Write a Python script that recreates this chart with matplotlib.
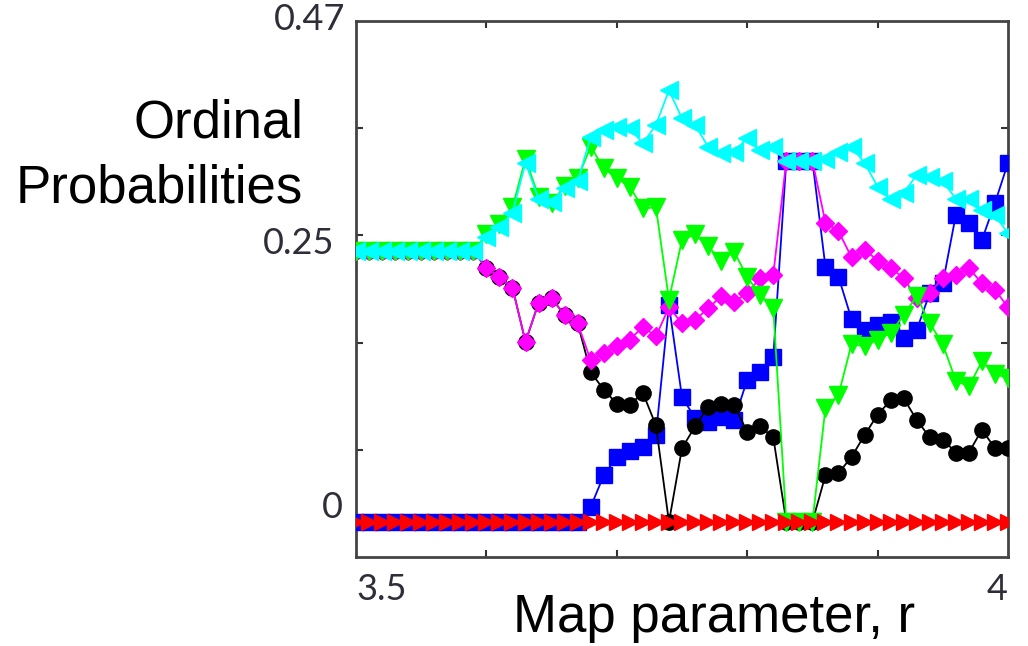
import matplotlib
matplotlib.use("Agg")
import matplotlib.pyplot as plt
import numpy as np

# r values, 3.50 .. 4.00 step 0.01
r = np.round(np.arange(51) * 0.01 + 3.5, 2)

flat = [0.25] * 10
zero10 = [0.0] * 10

cyan_p = flat + [0.263, 0.272, 0.285, 0.331, 0.298, 0.295, 0.308, 0.314, 0.355, 0.361,
                 0.364, 0.363, 0.349, 0.366, 0.398, 0.372, 0.366, 0.346, 0.340, 0.341,
                 0.354, 0.343, 0.346, 0.333, 0.333, 0.333, 0.335, 0.341, 0.346, 0.331,
                 0.309, 0.298, 0.303, 0.320, 0.318, 0.314, 0.298, 0.298, 0.288, 0.283,
                 0.266]
green_p = flat + [0.265, 0.275, 0.290, 0.335, 0.300, 0.294, 0.310, 0.317, 0.346, 0.326,
                  0.317, 0.309, 0.289, 0.290, 0.205, 0.260, 0.265, 0.254, 0.241, 0.249,
                  0.226, 0.209, 0.197, 0.0, 0.0, 0.0, 0.105, 0.117, 0.164, 0.162,
                  0.168, 0.174, 0.191, 0.208, 0.183, 0.164, 0.130, 0.125, 0.148, 0.136,
                  0.133]
magenta_p = flat + [0.234, 0.226, 0.216, 0.166, 0.202, 0.206, 0.191, 0.183, 0.149, 0.156,
                    0.162, 0.168, 0.180, 0.171, 0.198, 0.183, 0.186, 0.197, 0.208, 0.203,
                    0.211, 0.225, 0.228, 0.333, 0.333, 0.333, 0.276, 0.268, 0.244, 0.251,
                    0.241, 0.234, 0.225, 0.206, 0.211, 0.225, 0.228, 0.234, 0.220, 0.214,
                    0.198]
black_p = flat + [0.234, 0.226, 0.216, 0.166, 0.202, 0.206, 0.191, 0.183, 0.138, 0.122,
                  0.109, 0.108, 0.119, 0.089, 0.0, 0.068, 0.088, 0.106, 0.109, 0.108,
                  0.083, 0.088, 0.078, 0.0, 0.0, 0.0, 0.043, 0.045, 0.060, 0.080,
                  0.099, 0.112, 0.114, 0.094, 0.078, 0.076, 0.064, 0.064, 0.085, 0.068,
                  0.068]
blue_p = zero10 + [0.0, 0.0, 0.0, 0.0, 0.0, 0.0, 0.0, 0.0, 0.014, 0.043,
                   0.060, 0.065, 0.069, 0.080, 0.200, 0.115, 0.096, 0.092, 0.097, 0.094,
                   0.131, 0.138, 0.152, 0.333, 0.333, 0.333, 0.235, 0.226, 0.187, 0.177,
                   0.182, 0.184, 0.170, 0.177, 0.211, 0.220, 0.283, 0.276, 0.260, 0.294,
                   0.331]
red_p = [0.0] * 51

W, H = 1028, 646
fig = plt.figure(figsize=(W / 100, H / 100), dpi=100)
ax = fig.add_axes([356 / W, 1 - 557 / H, (1008 - 356) / W, (557 - 21) / H])

lw = 1.3
ax.plot(r, blue_p, color="#0000ff", marker="s", ms=11, lw=lw, zorder=3)
ax.plot(r, black_p, color="black", marker="o", ms=11, lw=lw, zorder=3)
ax.plot(r, magenta_p, color="#ff00ff", marker="D", ms=9, lw=lw, zorder=4)
ax.plot(r, green_p, color="#00ff00", marker="v", ms=13, lw=lw, zorder=4)
ax.plot(r, cyan_p, color="#00ffff", marker="<", ms=13, lw=lw, zorder=5)
ax.plot(r, red_p, color="#ff0000", marker=">", ms=12, lw=lw, zorder=6)

ylo, yhi = -0.0323, 0.4618
ax.set_xlim(3.5, 4.0)
ax.set_ylim(ylo, yhi)
ax.set_xticks([3.6, 3.7, 3.8, 3.9])
ax.set_yticks(np.linspace(ylo, yhi, 6)[1:-1])
ax.tick_params(direction="in", length=5, width=1.5, color="#333333",
               top=True, right=True, labelbottom=False, labelleft=False)
for s in ax.spines.values():
    s.set_linewidth(2)
    s.set_color("#444444")

def px(x, y):
    return x / W, 1 - y / H

tk = dict(family="Lato", fontsize=26, color="#2e2e38")
fig.text(*px(345, 20), "0.47", ha="right", va="center", **tk)
fig.text(*px(334, 244), "0.25", ha="right", va="center", **tk)
fig.text(*px(343, 507), "0", ha="right", va="center", **tk)
fig.text(*px(356, 589), "3.5", ha="left", va="center", **tk)
fig.text(*px(1008, 589), "4", ha="right", va="center", **tk)

lab = dict(family="Liberation Sans", fontsize=38, color="black")
fig.text(*px(714, 632), "Map parameter, r", ha="center", va="baseline", **lab)
fig.text(*px(303, 138), "Ordinal", ha="right", va="baseline", **lab)
fig.text(*px(303, 202), "Probabilities", ha="right", va="baseline", **lab)

fig.savefig("out.png", dpi=100)
